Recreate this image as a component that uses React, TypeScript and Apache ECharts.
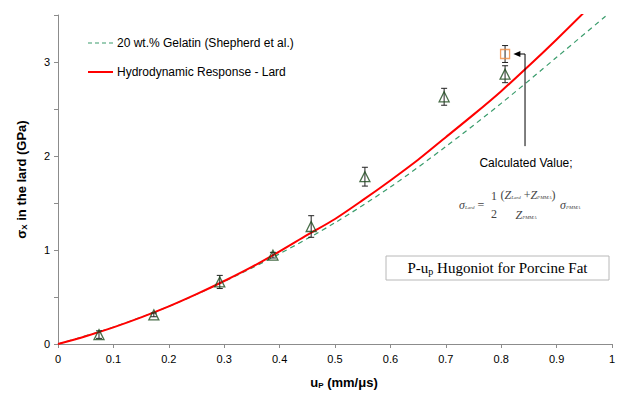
import React, { useEffect, useRef } from "react";
import * as echarts from "echarts";

// ---- data ----
const redU = [0, 0.05, 0.1, 0.15, 0.2, 0.25, 0.3, 0.35, 0.4, 0.45, 0.5, 0.55, 0.6, 0.65, 0.7, 0.75, 0.8, 0.85, 0.9, 0.95, 0.97];
const redS = [0, 0.083, 0.177, 0.283, 0.4, 0.53, 0.67, 0.82, 0.985, 1.16, 1.33, 1.53, 1.74, 1.96, 2.2, 2.44, 2.69, 2.96, 3.24, 3.53, 3.65];
const greenU = [0, 0.1, 0.2, 0.3, 0.4, 0.5, 0.6, 0.7, 0.8, 0.9, 1.0];
const greenS = [0, 0.18, 0.4, 0.665, 0.96, 1.29, 1.67, 2.1, 2.56, 3.05, 3.545];
const triU = [0.074, 0.173, 0.292, 0.388, 0.457, 0.554, 0.697, 0.807];
const triS = [0.1, 0.31, 0.66, 0.945, 1.25, 1.78, 2.63, 2.87];
const triErr = [0.04, 0.02, 0.07, 0.03, 0.115, 0.1, 0.09, 0.09];
const calcU = [0.807];
const calcS = [3.085];
const calcErr = [0.09];
const xTicks = [0, 0.1, 0.2, 0.3, 0.4, 0.5, 0.6, 0.7, 0.8, 0.9, 1];
const yTickLabels = [0, 1, 2, 3];
const legendNames = ["20 wt.% Gelatin (Shepherd et al.)", "Hydrodynamic Response - Lard"];
// annotation anchor (data coords)
const arrowLineU = 0.843;
const arrowLineBottomS = 2.105;
const arrowTipU = 0.822;

const SANS = "'Liberation Sans', Arial, sans-serif";
const SERIF = "'Liberation Serif', 'Times New Roman', serif";
const GREEN = "#3a9c6c";
const RED = "#ff0000";

export default function App() {
  const ref = useRef<HTMLDivElement>(null);
  useEffect(() => {
    if (!ref.current) return;
    const chart = echarts.init(ref.current, undefined, { renderer: "svg" });
    const errData = [
      ...triU.map((u, i) => [u, triS[i], triS[i] - triErr[i], triS[i] + triErr[i]]),
      ...calcU.map((u, i) => [u, calcS[i], calcS[i] - calcErr[i], calcS[i] + calcErr[i]]),
    ];
    const option: any = {
      animation: false,
      backgroundColor: "#fff",
      grid: { left: 58, top: 15, width: 554, height: 330, containLabel: false },
      xAxis: {
        type: "value",
        min: 0,
        max: 1,
        interval: 0.1,
        name: "u{s|P} (mm/\u03bcs)",
        nameLocation: "middle",
        nameGap: 31,
        nameTextStyle: {
          fontFamily: SANS, fontSize: 13, fontWeight: "bold", color: "#000",
          padding: [0, 0, 0, 18],
          rich: { s: { fontFamily: SANS, fontSize: 8, fontWeight: "bold", color: "#000", padding: [6, 0, 0, 0] } },
        },
        axisLine: { lineStyle: { color: "#8c8c8c", width: 1 } },
        axisTick: { length: 4, lineStyle: { color: "#8c8c8c" } },
        axisLabel: {
          fontFamily: SANS, fontSize: 11, color: "#000", margin: 9,
          formatter: (v: number) => {
            const t = xTicks.find((x) => Math.abs(x - v) < 1e-6);
            return t === undefined ? "" : String(t);
          },
        },
        splitLine: { show: false },
      },
      yAxis: {
        type: "value",
        min: 0,
        max: 3.5,
        interval: 0.5,
        name: "\u03c3{s|X} in the lard (GPa)",
        nameLocation: "middle",
        nameGap: 30,
        nameRotate: 90,
        nameTextStyle: {
          fontFamily: SANS, fontSize: 13, fontWeight: "bold", color: "#000",
          rich: { s: { fontFamily: SANS, fontSize: 8, fontWeight: "bold", color: "#000", padding: [6, 0, 0, 0] } },
        },
        axisLine: { show: true, lineStyle: { color: "#8c8c8c", width: 1 } },
        axisTick: { show: true, length: 4, lineStyle: { color: "#8c8c8c" } },
        axisLabel: {
          fontFamily: SANS, fontSize: 11, color: "#000", margin: 8,
          formatter: (v: number) => (yTickLabels.some((t) => Math.abs(t - v) < 1e-6) ? String(Math.round(v)) : ""),
        },
        splitLine: { show: false },
      },
      series: [
        {
          name: legendNames[0],
          type: "line",
          data: greenU.map((u, i) => [u, greenS[i]]),
          smooth: 0.3,
          showSymbol: false,
          symbol: "none",
          lineStyle: { color: GREEN, width: 1.2, type: [5, 4] },
          itemStyle: { color: GREEN },
          z: 3,
        },
        {
          name: legendNames[1],
          type: "line",
          data: redU.map((u, i) => [u, redS[i]]),
          smooth: 0.3,
          showSymbol: false,
          symbol: "none",
          lineStyle: { color: RED, width: 2 },
          itemStyle: { color: RED },
          z: 4,
        },
        {
          name: "err",
          type: "custom",
          data: errData,
          z: 5,
          renderItem: (params: any, api: any) => {
            const x = api.value(0);
            const lo = api.coord([x, api.value(2)]);
            const hi = api.coord([x, api.value(3)]);
            const st = { stroke: "#222", lineWidth: 1 };
            return {
              type: "group",
              children: [
                { type: "line", shape: { x1: lo[0], y1: lo[1], x2: hi[0], y2: hi[1] }, style: st },
                { type: "line", shape: { x1: lo[0] - 3, y1: lo[1], x2: lo[0] + 3, y2: lo[1] }, style: st },
                { type: "line", shape: { x1: hi[0] - 3, y1: hi[1], x2: hi[0] + 3, y2: hi[1] }, style: st },
              ],
            };
          },
        },
        {
          name: "Lard data",
          type: "scatter",
          data: triU.map((u, i) => [u, triS[i]]),
          symbol: "triangle",
          symbolSize: [10, 10],
          itemStyle: { color: "rgba(255,255,255,0)", borderColor: "#1c4a1c", borderWidth: 1.3 },
          z: 6,
        },
        {
          name: "Calculated",
          type: "scatter",
          data: calcU.map((u, i) => [u, calcS[i]]),
          symbol: "rect",
          symbolSize: 9,
          itemStyle: { color: "rgba(255,255,255,0)", borderColor: "#f08a3c", borderWidth: 1.3 },
          z: 6,
        },
      ],
    };
    chart.setOption(option);

    // annotation placed via data -> pixel conversion
    const top = chart.convertToPixel({ gridIndex: 0 }, [arrowLineU, calcS[0]]) as number[];
    const bot = chart.convertToPixel({ gridIndex: 0 }, [arrowLineU, arrowLineBottomS]) as number[];
    const tip = chart.convertToPixel({ gridIndex: 0 }, [arrowTipU, calcS[0]]) as number[];
    const cx = top[0] + 1;
    const main = { fontFamily: SERIF, fontSize: 12, fontStyle: "italic", fill: "#444" };
    const sub = { fontFamily: SERIF, fontSize: 5, fontStyle: "italic", fill: "#444", padding: [5, 0, 0, 0] };
    const up = { fontFamily: SERIF, fontSize: 12, fill: "#444" };
    const rich = { i: main, s: sub, u: up };
    chart.setOption({
      graphic: [
        // manual legend
        { type: "line", shape: { x1: 88, y1: 43, x2: 113, y2: 43 }, style: { stroke: GREEN, lineWidth: 1.2, lineDash: [4, 3] }, z: 10 },
        { type: "text", x: 117, y: 43, style: { text: legendNames[0], font: `12px ${SANS}`, fill: "#000", verticalAlign: "middle" }, z: 10 },
        { type: "line", shape: { x1: 88, y1: 72, x2: 113, y2: 72 }, style: { stroke: RED, lineWidth: 2 }, z: 10 },
        { type: "text", x: 117, y: 72, style: { text: legendNames[1], font: `12px ${SANS}`, fill: "#000", verticalAlign: "middle" }, z: 10 },
        // arrow
        { type: "line", shape: { x1: top[0], y1: top[1], x2: bot[0], y2: bot[1] }, style: { stroke: "#000", lineWidth: 1 }, z: 10 },
        { type: "line", shape: { x1: top[0], y1: top[1], x2: tip[0] + 5, y2: tip[1] }, style: { stroke: "#000", lineWidth: 1 }, z: 10 },
        {
          type: "polygon",
          shape: { points: [[tip[0], tip[1]], [tip[0] + 7, tip[1] - 3], [tip[0] + 7, tip[1] + 3]] },
          style: { fill: "#000" },
          z: 10,
        },
        {
          type: "text", x: cx, y: bot[1] + 17,
          style: { text: "Calculated Value;", font: `12px ${SANS}`, fill: "#000", align: "center", verticalAlign: "middle" },
          z: 10,
        },
        // formula
        {
          type: "text", x: 459, y: 205,
          style: { text: "{i|\u03c3}{s|Lard}{u| =}", rich, verticalAlign: "middle" },
          z: 10,
        },
        { type: "text", x: 494, y: 196, style: { text: "1", font: `12px ${SERIF}`, fill: "#444", align: "center", verticalAlign: "middle" }, z: 10 },
        { type: "text", x: 494, y: 214, style: { text: "2", font: `12px ${SERIF}`, fill: "#444", align: "center", verticalAlign: "middle" }, z: 10 },
        {
          type: "text", x: 528, y: 195,
          style: { text: "{u|(}{i|Z}{s|Lard}{u| +}{i|Z}{s|PMMA}{u|)}", rich, align: "center", verticalAlign: "middle" },
          z: 10,
        },
        {
          type: "text", x: 526, y: 215,
          style: { text: "{i|Z}{s|PMMA}", rich, align: "center", verticalAlign: "middle" },
          z: 10,
        },
        {
          type: "text", x: 560, y: 205,
          style: { text: "{i|\u03c3}{s|PMMA}", rich, verticalAlign: "middle" },
          z: 10,
        },
        // title box
        {
          type: "rect", shape: { x: 386, y: 256, width: 223, height: 24 },
          style: { fill: "#fff", stroke: "#b8b8b8", lineWidth: 1 }, z: 10,
        },
        {
          type: "text", x: 497.5, y: 268,
          style: {
            text: "{a|P-u}{b|p}{a| Hugoniot for Porcine Fat}",
            rich: {
              a: { fontFamily: SERIF, fontSize: 15, fill: "#000" },
              b: { fontFamily: SERIF, fontSize: 10, fill: "#000", padding: [7, 0, 0, 0] },
            },
            align: "center", verticalAlign: "middle",
          },
          z: 11,
        },
      ],
    });
    return () => chart.dispose();
  }, []);
  return <div ref={ref} style={{ position: "fixed", left: 0, top: 0, width: 622, height: 394 }} />;
}
